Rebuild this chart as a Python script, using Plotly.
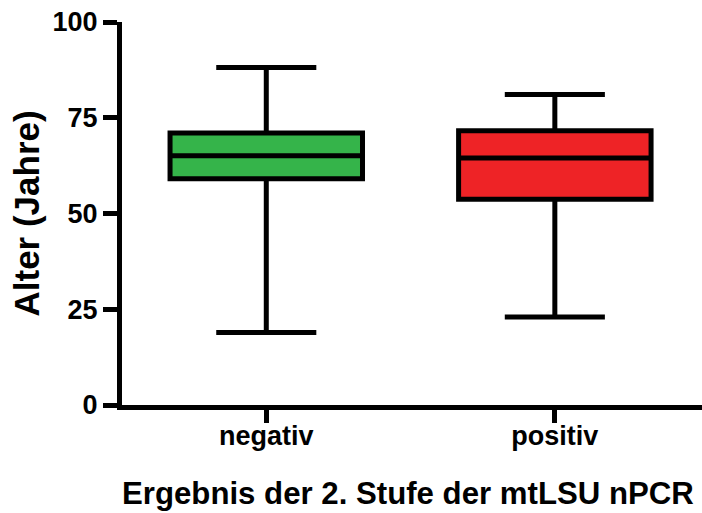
import plotly.graph_objects as go

categories = ["negativ", "positiv"]
q1 = [59.1, 53.7]
median = [65.1, 64.5]
q3 = [71.0, 71.6]
lower = [18.9, 23.0]
upper = [88.1, 81.1]
colors = ["#35B44A", "#EE2326"]
y_ticks = [0, 25, 50, 75, 100]
x_title = "Ergebnis der 2. Stufe der mtLSU nPCR"
y_title = "Alter (Jahre)"

fig = go.Figure()
for i, cat in enumerate(categories):
    fig.add_trace(go.Box(
        x=[cat], q1=[q1[i]], median=[median[i]], q3=[q3[i]],
        lowerfence=[lower[i]], upperfence=[upper[i]],
        fillcolor=colors[i], line=dict(color="black", width=5),
        width=0.667, whiskerwidth=0.52, boxpoints=False,
        hoverinfo="skip", showlegend=False,
    ))

font_tick = dict(family="Liberation Sans", size=27, color="black", weight="bold")
font_xtitle = dict(family="Liberation Sans", size=31.2, color="black", weight="bold")
font_ytitle = dict(family="Liberation Sans", size=35, color="black", weight="bold")
fig.update_layout(
    width=702, height=513,
    margin=dict(l=122, r=0, t=22, b=108),
    plot_bgcolor="white", paper_bgcolor="white",
    xaxis=dict(
        type="category", categoryarray=categories, range=[-0.5, 1.51],
        showline=True, linecolor="black", linewidth=5,
        ticks="outside", ticklen=13, tickwidth=5, tickcolor="black",
        tickfont=font_tick, showgrid=False, zeroline=False,
        automargin=False, ticklabelstandoff=-10,
    ),
    yaxis=dict(
        range=[0, 100], tickvals=y_ticks,
        showline=True, linecolor="black", linewidth=5,
        ticks="outside", ticklen=14, tickwidth=5, tickcolor="black",
        tickfont=font_tick, showgrid=False, zeroline=False,
        automargin=False,
    ),
    annotations=[
        dict(text=x_title, font=font_xtitle, showarrow=False,
             xref="paper", yref="paper", x=0.493, y=-0.2298,
             xanchor="center", yanchor="middle"),
        dict(text=y_title, font=font_ytitle, showarrow=False, textangle=-90,
             xref="paper", yref="paper", x=-0.1638, y=0.5,
             xanchor="center", yanchor="middle"),
    ],
)
fig.write_html("out.html", config={"displayModeBar": False},
               post_script="document.body.style.margin='0';document.body.style.overflow='hidden';")
